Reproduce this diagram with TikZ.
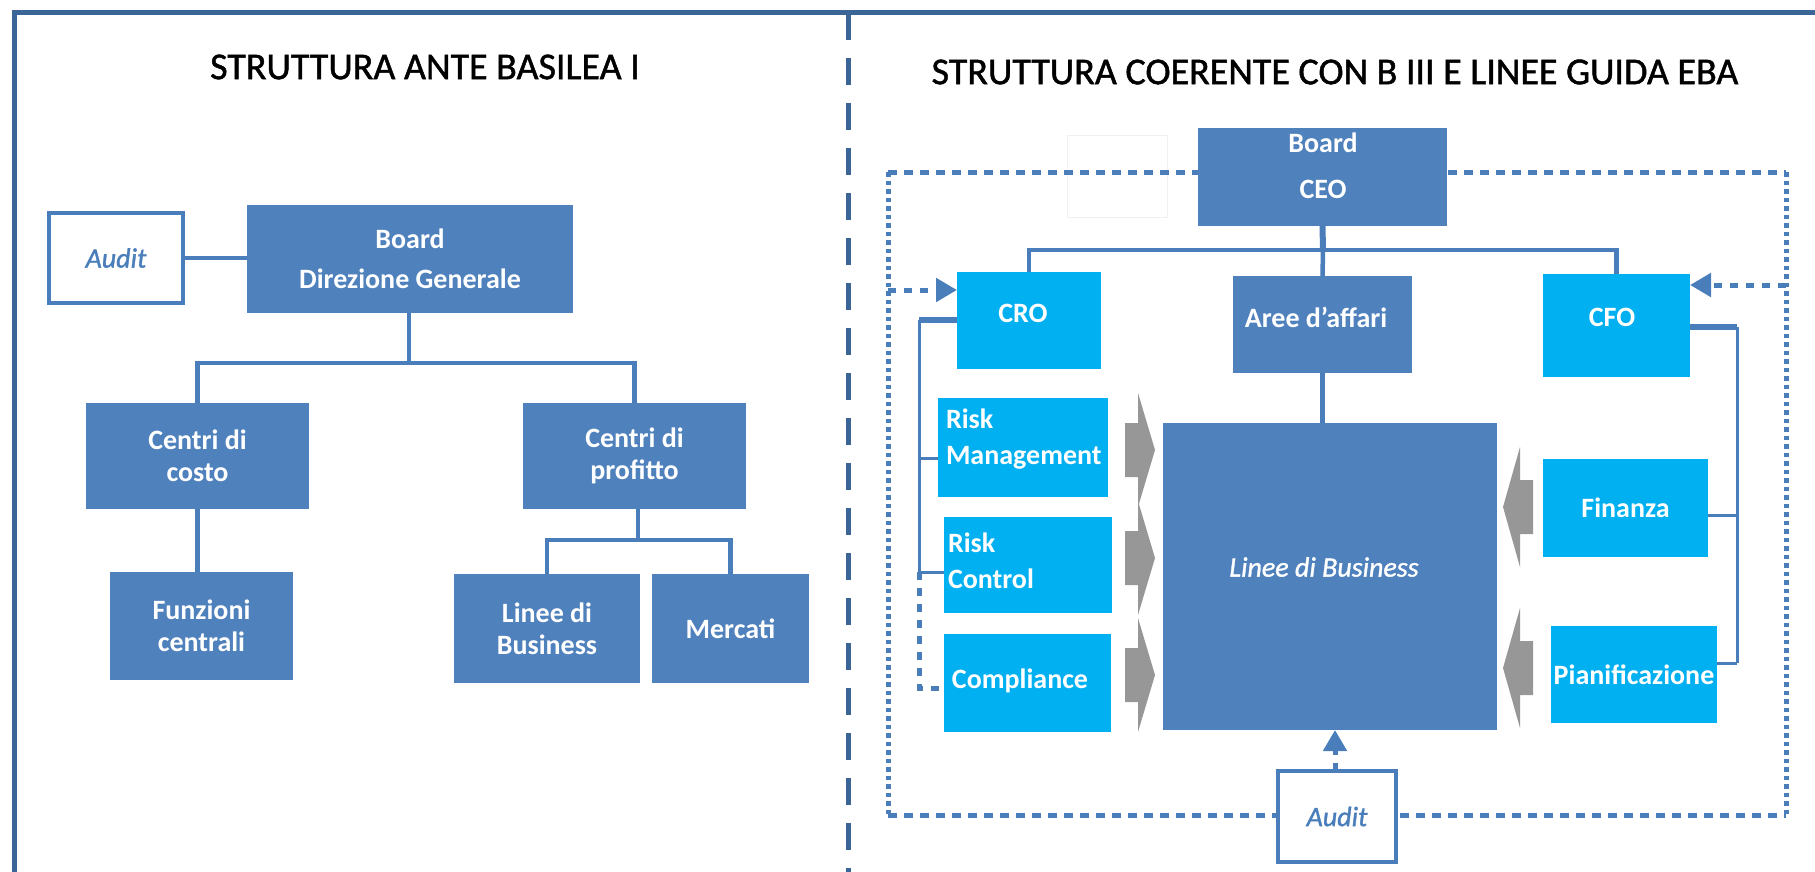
\documentclass[tikz,border=0pt]{standalone}
\usepackage{fontspec}
\setmainfont{Carlito}
\newfontfamily\heavyf{Carlito}[FakeBold=1.2]
\usetikzlibrary{arrows.meta}
\definecolor{dblue}{HTML}{4F81BD}
\definecolor{cyanb}{HTML}{00B0F0}
\definecolor{lineb}{HTML}{4A7EBB}
\definecolor{frameb}{HTML}{3A6596}
\definecolor{garrow}{HTML}{979797}
\newcommand\bxf{\fontsize{28}{32}\selectfont\bfseries}
\newcommand\bxr{\fontsize{28}{33}\selectfont\bfseries}
\newcommand\itf{\heavyf\fontsize{28}{33}\selectfont\itshape}
\newcommand\audf{\heavyf\fontsize{28}{33}\selectfont\itshape}
\newcommand\titlef{\heavyf\fontsize{38}{44}\selectfont}
\begin{document}
\begin{tikzpicture}[x=1pt,y=-1pt,
  box/.style={inner sep=0pt, outer sep=0pt, text=white, font=\bxf, align=center},
  dbox/.style={box, fill=dblue},
  cbox/.style={box, fill=cyanb},
  wbox/.style={box, fill=white, draw=lineb, line width=4pt, text=lineb, font=\audf},
  txt/.style={inner sep=0pt, outer sep=0pt, text=white, font=\bxr},
  conn/.style={draw=lineb, line width=4.5pt},
  thin/.style={draw=lineb, line width=3pt},
  thick/.style={draw=lineb, line width=6pt},
  dotconn/.style={draw=lineb, line width=5pt, dash pattern=on 8pt off 8pt},
  fdoth/.style={draw=lineb, line width=5pt, dash pattern=on 9pt off 7pt},
  fdotv/.style={draw=lineb, line width=5pt, dash pattern=on 4.5pt off 4pt},
  tip/.style={-{Triangle[length=21pt,width=23pt]}},
  garr/.style={fill=garrow}
]
\useasboundingbox (0,0) rectangle (1815,872);

% outer frame
\coordinate (fTL) at (14,13);
\coordinate (fTR) at (1815,13);
\coordinate (fBL) at (14,872);
\coordinate (dT) at (848,13);
\coordinate (dB) at (848,872);
\draw[frameb, line width=5pt] (fTR) -- (fTL) -- (fBL);
\draw[frameb, line width=5pt, dash pattern=on 27pt off 18pt] (dT) -- (dB);

% titles
\node[font=\titlef] (t1) at (425,67) {STRUTTURA ANTE BASILEA I};
\node[font=\titlef] (t2) at (1335,72) {STRUTTURA COERENTE CON B III E LINEE GUIDA EBA};

% ---------- left structure ----------
\node[wbox, minimum width=134pt, minimum height=90pt] (audit1) at (116,258) {Audit};
\node[dbox, minimum width=326pt, minimum height=108pt] (board1) at (410,259) {Board\\[8pt]Direzione Generale};
\node[dbox, minimum width=223pt, minimum height=106pt] (cc) at (197.5,456) {Centri di\\costo};
\node[dbox, minimum width=223pt, minimum height=106pt] (cp) at (634.5,456) {Centri di\\profitto};
\node[dbox, minimum width=183pt, minimum height=108pt] (fc) at (201.5,626) {Funzioni\\centrali};
\node[dbox, minimum width=186pt, minimum height=109pt] (lb) at (547,628.5) {Linee di\\Business};
\node[dbox, minimum width=157pt, minimum height=109pt] (me) at (730.5,628.5) {Mercati};

\coordinate (j1) at (409,363);
\coordinate (j2) at (638,540);
\draw[conn] (audit1.east) -- (audit1.east -| board1.west);
\draw[conn] (board1.south -| j1) -- (j1);
\draw[conn] (cc.north) |- (j1) -| (cp.north);
\draw[conn] (cc.south) -- (cc.south |- fc.north);
\draw[conn] (cp.south -| j2) -- (j2);
\draw[conn] (lb.north) |- (j2) -| (me.north);

% ---------- right structure ----------
\node[draw=black!6, line width=0.8pt, minimum width=100pt, minimum height=82pt, inner sep=0pt] (faint) at (1117,176) {};

% dotted frame
\coordinate (dTL) at (888,172);
\coordinate (dTR) at (1786,172);
\coordinate (dBL) at (888,815);
\coordinate (dBR) at (1786,815);
\draw[fdoth] (dTL) -- (dTR);
\draw[fdoth] (dBL) -- (dBR);
\draw[fdotv] (dTL) -- (dBL);
\draw[fdotv] (dTR) -- (dBR);

\node[dbox, minimum width=249pt, minimum height=98pt] (ceo) at (1322.5,177) {};
\node[txt, align=center] (ceoT) at (1323,166) {Board\\[13pt]CEO};
\node[cbox, minimum width=144pt, minimum height=97pt] (cro) at (1029,320.5) {};
\node[txt] (croT) at (1023,313) {CRO};
\node[dbox, minimum width=179pt, minimum height=97pt] (aree) at (1322.5,324.5) {};
\node[txt] (areeT) at (1316,317) {Aree d’affari};
\node[cbox, minimum width=147pt, minimum height=103pt] (cfo) at (1616.5,325.5) {};
\node[txt] (cfoT) at (1612,317) {CFO};

\node[cbox, minimum width=170pt, minimum height=99pt] (rm) at (1023,447.5) {};
\node[txt, anchor=west, align=left] (rmT) at (946,439) {Risk\\[3pt]Management};
\node[cbox, minimum width=168pt, minimum height=96pt] (rc) at (1028,565) {};
\node[txt, anchor=west, align=left] (rcT) at (948,561) {Risk\\[3pt]Control};
\node[cbox, minimum width=167pt, minimum height=98pt] (comp) at (1027.5,683) {};
\node[txt] (compT) at (1020,681) {Compliance};

\node[dbox, minimum width=334pt, minimum height=307pt] (lob) at (1330,576.5) {};
\node[txt, font=\itf] (lobT) at (1324,567) {Linee di Business};

\node[cbox, minimum width=165pt, minimum height=98pt] (fin) at (1625.5,508) {Finanza};
\node[cbox, minimum width=166pt, minimum height=97pt] (pian) at (1634,674.5) {Pianificazione};

\node[wbox, minimum width=118pt, minimum height=91pt] (audit2) at (1337,816.5) {Audit};

% board connectors
\coordinate (j3) at (1323,250);
\draw[thick] (ceo.south) -- (j3);
\draw[conn] (cro.north) |- (j3) -| (cfo.north);
\draw[conn] (j3) -- (aree.north);
\draw[conn] (aree.south) -- (aree.south |- lob.north);

% CRO bracket
\coordinate (cr1) at (919,320);
\coordinate (cr2) at (919,458);
\coordinate (cr3) at (919,572);
\coordinate (cr4) at (919,688);
\draw[thick] (cr1 -| cro.west) -- (cr1);
\draw[thin] (cr1) -- (cr3);
\draw[thin] (cr2) -- (cr2 -| rm.west);
\draw[thin] (cr3) -- (cr3 -| rc.west);
\draw[dotconn] (cr3) -- (cr4) -- (cr4 -| comp.west);

% CFO bracket
\coordinate (cf1) at (1737,327);
\coordinate (cf2) at (1737,515);
\coordinate (cf3) at (1737,663);
\draw[thick] (cf1 -| cfo.east) -- (cf1);
\draw[thin] (cf1) -- (cf3);
\draw[thin] (cf2) -- (cf2 -| fin.east);
\draw[thin] (cf3) -- (cf3 -| pian.east);

% dotted arrows
\coordinate (fl) at (888,290);
\coordinate (fr) at (1786,285);
\draw[dotconn, tip] (fl) -- (fl -| cro.west);
\draw[dotconn, tip] (fr) -- (fr -| cfo.east);
\draw[dotconn, tip] (audit2.north -| 1335,0) -- (lob.south -| 1335,0);

% grey block arrows
\foreach \c in {450,558,675} {
  \fill[garr] (1125,\c-27) -- (1138,\c-27) -- (1138,\c-57) -- (1155,\c)
    -- (1138,\c+57) -- (1138,\c+27) -- (1125,\c+27) -- cycle;
}
\foreach \c in {507,668} {
  \fill[garr] (1533,\c-27) -- (1520,\c-27) -- (1520,\c-60) -- (1503,\c)
    -- (1520,\c+60) -- (1520,\c+27) -- (1533,\c+27) -- cycle;
}
\end{tikzpicture}
\end{document}
